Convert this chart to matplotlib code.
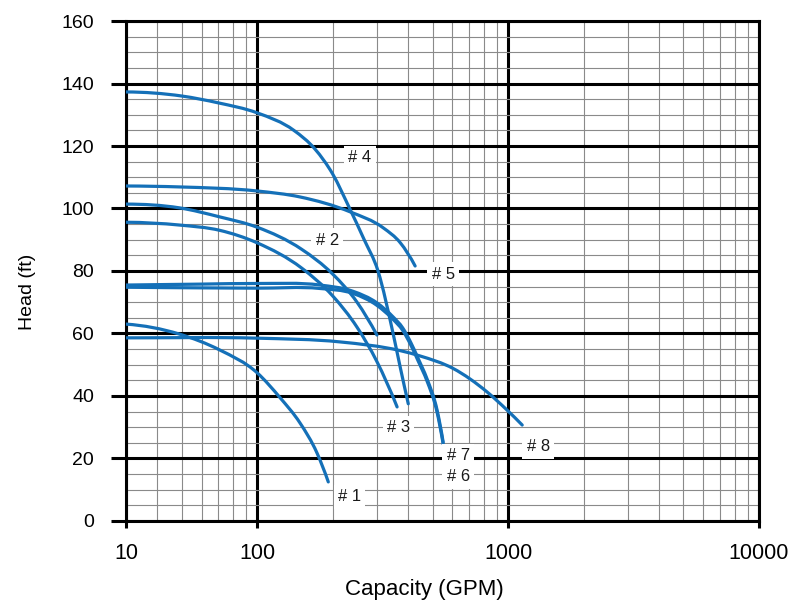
import matplotlib
matplotlib.use("Agg")
import matplotlib.pyplot as plt
import numpy as np
from matplotlib.path import Path
from matplotlib.patches import PathPatch
from matplotlib.ticker import LogLocator, MultipleLocator, NullFormatter

plt.rcParams['font.family'] = ['Liberation Sans', 'DejaVu Sans']

# pump curves, capacity (GPM) / head (ft)
q1 = [30, 49, 71, 100, 123.5, 148, 173, 192]
h1 = [63.0, 59.8, 54.7, 47.4, 39.4, 31.4, 21.8, 12.5]

q2 = [30, 49, 71, 100, 150, 200, 250, 300]
h2 = [101.4, 100.2, 97.3, 94.0, 87.0, 79.0, 70.0, 59.5]

q3 = [30, 49, 71, 100, 150, 200, 250, 300, 361]
h3 = [95.6, 94.7, 93.0, 89.0, 81.0, 72.0, 62.0, 51.0, 36.5]

q4 = [30, 50, 70, 100, 140, 170, 200, 233, 267, 303, 348, 372, 400]
h4 = [137.3, 136.0, 133.8, 130.6, 125.0, 119.0, 111.0, 100.2, 90.0, 80.0, 60.0, 49.0, 37.5]

q5 = [30, 49, 100, 148, 235, 318, 372, 426]
h5 = [107.2, 106.9, 105.6, 103.7, 98.9, 93.8, 89.0, 81.6]

q6 = [30, 60, 100, 178, 241, 300, 348, 380, 410, 438, 475, 521, 551]
h6 = [74.8, 74.6, 74.5, 74.4, 72.8, 69.0, 64.5, 61.0, 56.2, 51.2, 44.8, 34.8, 24.6]

q7 = [30, 60, 100, 178, 241, 300, 348, 380, 410, 438, 475, 521, 551]
h7 = [75.5, 75.8, 76.0, 75.5, 73.5, 69.8, 65.3, 61.8, 57.0, 52.0, 45.5, 35.5, 25.2]

q8 = [30, 100, 214, 372, 446, 604, 824, 990, 1138]
h8 = [58.6, 58.5, 57.3, 54.5, 52.8, 48.8, 41.3, 35.5, 30.7]

curves = [(q1, h1), (q2, h2), (q3, h3), (q4, h4), (q5, h5), (q6, h6), (q7, h7), (q8, h8)]

# label text and where it sits
labels = ['# 1', '# 2', '# 3', '# 4', '# 5', '# 6', '# 7', '# 8']
label_q = [233, 190, 365, 257, 551, 632, 632, 1318]
label_h = [7.7, 89.9, 29.8, 116.2, 79.0, 14.1, 20.8, 23.7]

xticks = [30, 100, 1000, 10000]
xtick_labels = ['10', '100', '1000', '10000']


def smooth_path(q, h):
    # smooth line through the points: cubic hermite in log(q), drawn as bezier
    u = np.log10(q)
    y = np.asarray(h, float)
    d = np.diff(u)
    s = np.diff(y) / d
    m = np.empty_like(y)
    m[1:-1] = (d[1:] * s[:-1] + d[:-1] * s[1:]) / (d[:-1] + d[1:])
    m[0] = ((2 * d[0] + d[1]) * s[0] - d[0] * s[1]) / (d[0] + d[1])
    m[-1] = ((2 * d[-1] + d[-2]) * s[-1] - d[-1] * s[-2]) / (d[-1] + d[-2])
    if m[0] * s[0] < 0:
        m[0] = 0
    verts = [(u[0], y[0])]
    codes = [Path.MOVETO]
    for i in range(len(u) - 1):
        k = d[i] / 3
        verts += [(u[i] + k, y[i] + m[i] * k), (u[i + 1] - k, y[i + 1] - m[i + 1] * k), (u[i + 1], y[i + 1])]
        codes += [Path.CURVE4] * 3
    verts = np.array(verts)
    verts[:, 0] = 10 ** verts[:, 0]
    return Path(verts, codes)


fig = plt.figure(figsize=(7.9, 6.02), dpi=100)
ax = fig.add_axes([0.1595, 0.1346, 0.8013, 0.8305])

blue = '#1470b8'
for q, h in curves:
    ax.add_patch(PathPatch(smooth_path(q, h), facecolor='none', edgecolor=blue, lw=2.3,
                           capstyle='round', joinstyle='round', zorder=3))

for t, q, h in zip(labels, label_q, label_h):
    ax.text(q, h, t, fontsize=12, ha='center', va='center', color='#1a1a1a', zorder=4,
            bbox=dict(facecolor='white', edgecolor='none', pad=3))

ax.set_xscale('log')
ax.set_xlim(30, 10000)
ax.set_ylim(0, 160)
ax.set_xticks(xticks)
ax.set_xticklabels(xtick_labels)
ax.xaxis.set_minor_locator(LogLocator(base=10, subs=range(2, 10), numticks=20))
ax.xaxis.set_minor_formatter(NullFormatter())
ax.yaxis.set_major_locator(MultipleLocator(20))
ax.yaxis.set_minor_locator(MultipleLocator(5))

ax.grid(which='minor', color='#8a8a8a', lw=0.8, zorder=1)
ax.grid(which='major', color='black', lw=2.2, zorder=2)
ax.set_axisbelow(True)
for s in ax.spines.values():
    s.set_linewidth(2.2)
    s.set_color('black')

ax.tick_params(axis='y', which='major', length=11, width=2.2, pad=12, labelsize=14, direction='out')
ax.tick_params(axis='x', which='major', length=5, width=2.2, pad=11, labelsize=15.5, direction='out')
ax.tick_params(which='minor', length=0)

ax.set_xlabel('Capacity (GPM)', fontsize=16, va='center')
ax.set_ylabel('Head (ft)', fontsize=14, va='center')
ax.xaxis.set_label_coords(0.472, -0.138)
ax.yaxis.set_label_coords(-0.155, 0.458)

fig.savefig('out.png', dpi=100)
